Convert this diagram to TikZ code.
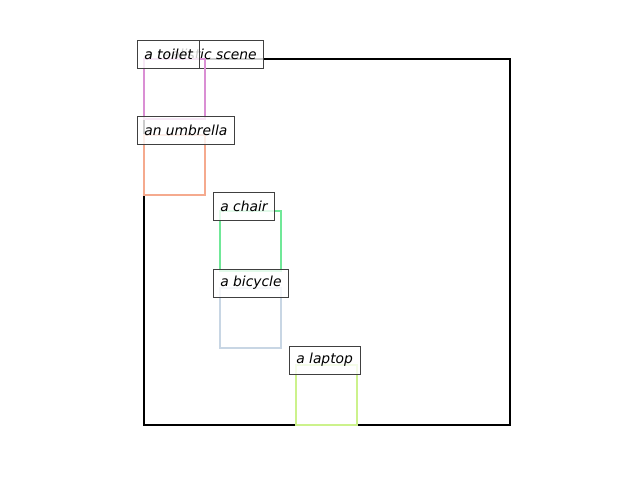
\documentclass[tikz,border=0pt]{standalone}
\usepackage{fontspec}
\setmainfont{DejaVu Sans}
\definecolor{toiletcol}{RGB}{218,143,212}
\definecolor{umbrellacol}{RGB}{245,170,142}
\definecolor{chaircol}{RGB}{112,232,152}
\definecolor{bicyclecol}{RGB}{200,214,228}
\definecolor{laptopcol}{RGB}{204,242,140}

\begin{document}
\begin{tikzpicture}[x=0.01in,y=-0.01in,
		tag/.style={draw=black!75,fill=white,fill opacity=0.8,text opacity=1,anchor=west,
			inner xsep=0.07in,inner ysep=0pt,minimum height=0.28in,font=\itshape\fontsize{10}{12}\selectfont},
		objbox/.style={line width=0.02in}]
		\useasboundingbox (0,0) rectangle (640,480);
		% the scene
		\draw [objbox,black] (144,59) rectangle (510,425);
		\node [tag] (scene) at (137,54) {a realistic scene};
		% the objects: name/colour/left/top/label
		\foreach \nm/\col/\x/\y/\txt in {toilet/toiletcol/144/59/a toilet,
				umbrella/umbrellacol/144/135/an umbrella,
				chair/chaircol/220/211/a chair,
				bicycle/bicyclecol/220/288/a bicycle,
				laptop/laptopcol/296/365/a laptop}{
			\draw [objbox,\col] (\x,\y) rectangle ++(61,60);
			\node [tag] (\nm) at (\x-7,\y-5) {\txt};
		}
\end{tikzpicture}
\end{document}
